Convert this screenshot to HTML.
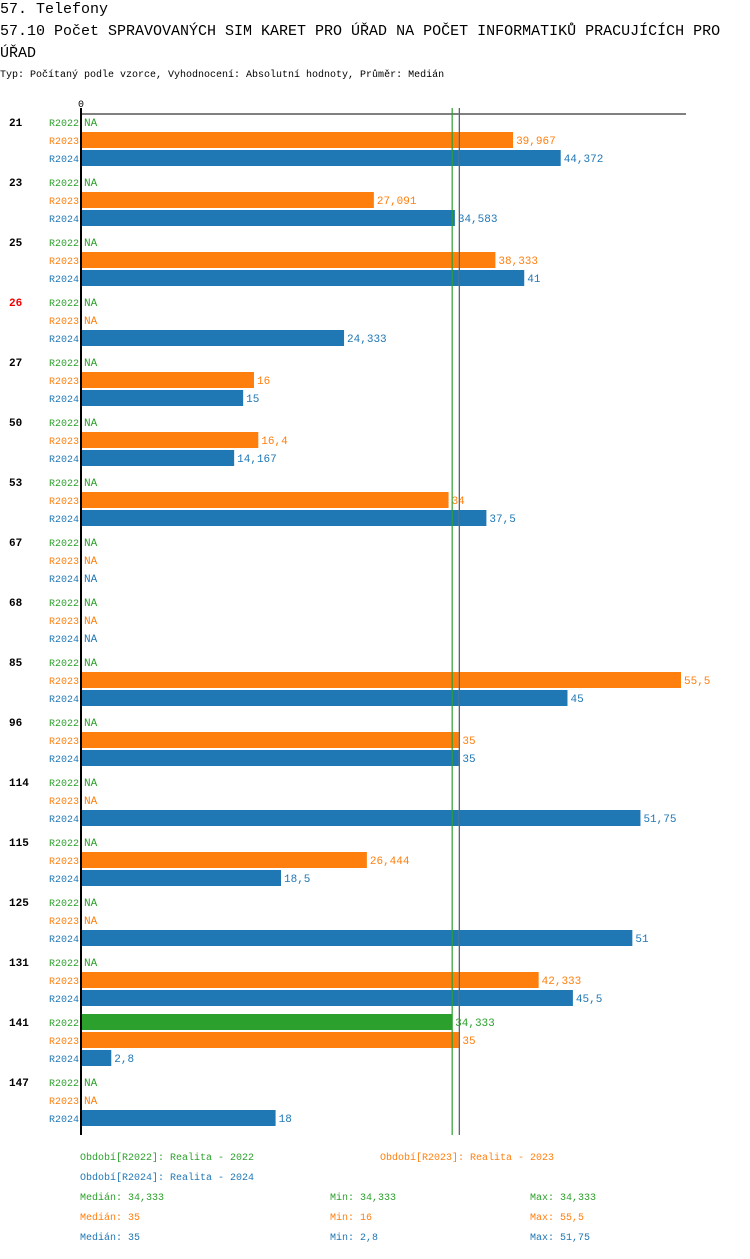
<!DOCTYPE html>
<html><head><meta charset="utf-8"><style>
body{margin:0;background:#fff;width:750px;height:1254px;overflow:hidden;font-family:"Liberation Mono",monospace}
svg text{font-family:"Liberation Mono","DejaVu Sans Mono",monospace}
</style></head><body>
<svg id="c" width="750" height="1254">
<text x="0" y="13" font-size="15">57. Telefony</text>
<text x="0" y="35" font-size="15">57.10 Počet SPRAVOVANÝCH SIM KARET PRO ÚŘAD NA POČET INFORMATIKŮ PRACUJÍCÍCH PRO</text>
<text x="0" y="57" font-size="15">ÚŘAD</text>
<text x="0" y="77" font-size="10">Typ: Počítaný podle vzorce, Vyhodnocení: Absolutní hodnoty, Průměr: Medián</text>
<text x="78" y="107" font-size="10">0</text>
<line x1="81" y1="114" x2="686" y2="114" stroke="#000"/>
<g id="bars"></g>
<line x1="81" y1="108" x2="81" y2="1135" stroke="#000" stroke-width="2"/>
<g id="legend" font-size="10"></g>
</svg>
<script>
const categories=["21","23","25","26","27","50","53","67","68","85","96","114","115","125","131","141","147"];
const highlighted=["26"];
const r2022=[null,null,null,null,null,null,null,null,null,null,null,null,null,null,null,34.333,null];
const r2023=[39.967,27.091,38.333,null,16,16.4,34,null,null,55.5,35,null,26.444,null,42.333,35,null];
const r2024=[44.372,34.583,41,24.333,15,14.167,37.5,null,null,45,35,51.75,18.5,51,45.5,2.8,18];
const seriesNames=["R2022","R2023","R2024"];
const colors=["#2ca02c","#ff7f0e","#1f77b4"];
const medians=[34.333,35,35];
const NS="http://www.w3.org/2000/svg";
const x0=81, scale=600/55.5;
const xs=v=>x0+v*scale;
const g=document.getElementById('bars');
function el(t,a,p){const e=document.createElementNS(NS,t);for(const k in a)e.setAttribute(k,a[k]);(p||g).appendChild(e);return e;}
function fmt(v){return String(Math.round(v*1000)/1000).replace('.',',');}
const all=[r2022,r2023,r2024];
categories.forEach((c,i)=>{
  const base=122+i*60;
  const t=el('text',{x:9,y:base+4,'font-size':11,'font-weight':'bold',fill:highlighted.includes(c)?'#e00':'#000'});
  
  
  t.textContent=c;
  all.forEach((s,j)=>{
    const cy=base+j*18;
    const l=el('text',{x:79,y:cy+4,'font-size':10,'text-anchor':'end',fill:colors[j]});
    
    
    l.textContent=seriesNames[j];
    const v=s[i];
    if(v==null){
      const n=el('text',{x:84,y:cy+4,'font-size':11,fill:colors[j]});
      
      
      n.textContent='NA';
    }else{
      const r=el('rect',{x:x0,y:cy-8,width:xs(v)-x0,height:16,fill:colors[j]});
      
      
      const vt=el('text',{x:xs(v)+3,y:cy+4,'font-size':11,fill:colors[j]});
      
      
      vt.textContent=fmt(v);
    }
  });
});
[1,0,2].forEach(j=>{
  const m=el('line',{x1:xs(medians[j]),x2:xs(medians[j]),y1:108,y2:1135,stroke:colors[j],'stroke-width':1.2});
  
  
});
const lg=document.getElementById('legend');
function lt(x,y,c,s){const e=el('text',{x:x,y:y,fill:c},lg);
  
  
  e.textContent=s;}
lt(80,1160,colors[0],'Období[R2022]: Realita - 2022');
lt(380,1160,colors[1],'Období[R2023]: Realita - 2023');
lt(80,1180,colors[2],'Období[R2024]: Realita - 2024');
const mins=[34.333,16,2.8], maxs=[34.333,55.5,51.75];
[0,1,2].forEach(j=>{
  const y=1200+j*20;
  lt(80,y,colors[j],'Medián: '+fmt(medians[j]));
  lt(330,y,colors[j],'Min: '+fmt(mins[j]));
  lt(530,y,colors[j],'Max: '+fmt(maxs[j]));
});
</script>
</body></html>
